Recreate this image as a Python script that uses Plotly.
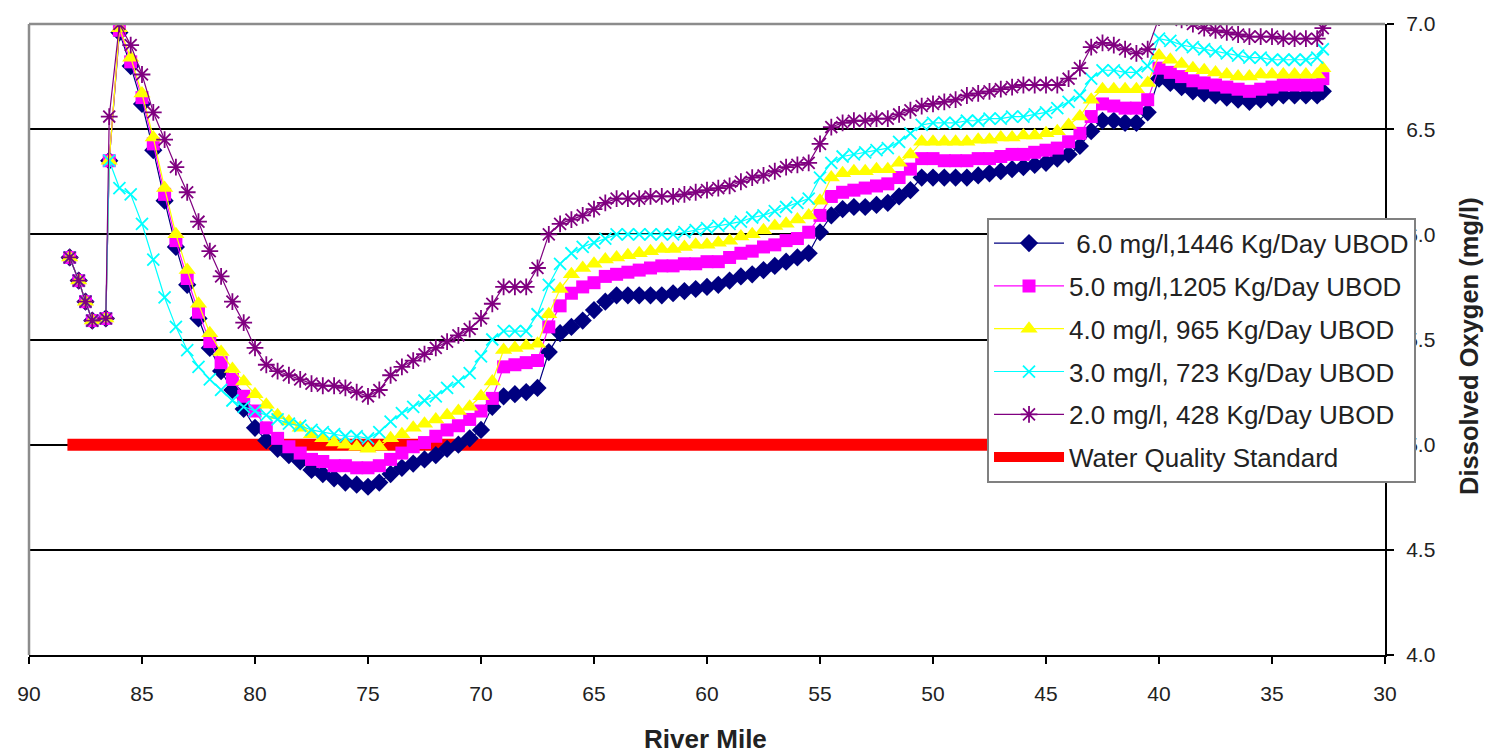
import plotly.graph_objects as go

river_mile = [88.2, 87.8, 87.5, 87.2, 86.6, 86.45,
              86.0, 85.5, 85.0, 84.5, 84.0, 83.5, 83.0, 82.5, 82.0, 81.5,
              81.0, 80.5, 80.0, 79.5, 79.0, 78.5, 78.0, 77.5, 77.0, 76.5,
              76.0, 75.5, 75.0, 74.5, 74.0, 73.5, 73.0, 72.5, 72.0, 71.5,
              71.0, 70.5, 70.0, 69.5, 69.0, 68.5, 68.0, 67.5, 67.0, 66.5,
              66.0, 65.5, 65.0, 64.5, 64.0, 63.5, 63.0, 62.5, 62.0, 61.5,
              61.0, 60.5, 60.0, 59.5, 59.0, 58.5, 58.0, 57.5, 57.0, 56.5,
              56.0, 55.5, 55.0, 54.5, 54.0, 53.5, 53.0, 52.5, 52.0, 51.5,
              51.0, 50.5, 50.0, 49.5, 49.0, 48.5, 48.0, 47.5, 47.0, 46.5,
              46.0, 45.5, 45.0, 44.5, 44.0, 43.5, 43.0, 42.5, 42.0, 41.5,
              41.0, 40.5, 40.0, 39.5, 39.0, 38.5, 38.0, 37.5, 37.0, 36.5,
              36.0, 35.5, 35.0, 34.5, 34.0, 33.5, 33.0, 32.75]

do_6mg = [5.89, 5.78, 5.68, 5.59, 5.60, 6.35,
          6.96, 6.80, 6.62, 6.40, 6.16, 5.94, 5.76, 5.60, 5.46, 5.35,
          5.26, 5.17, 5.08, 5.02, 4.98, 4.95, 4.92, 4.88, 4.86, 4.84,
          4.82, 4.81, 4.80, 4.82, 4.86, 4.89, 4.91, 4.93, 4.95, 4.98,
          5.00, 5.03, 5.07, 5.18, 5.23, 5.24, 5.25, 5.27, 5.44, 5.53,
          5.56, 5.59, 5.64, 5.68, 5.71, 5.71, 5.71, 5.71, 5.71, 5.72,
          5.73, 5.74, 5.75, 5.76, 5.78, 5.80, 5.81, 5.83, 5.85, 5.87,
          5.89, 5.91, 6.01, 6.09, 6.12, 6.13, 6.13, 6.14, 6.15, 6.18,
          6.21, 6.27, 6.27, 6.27, 6.27, 6.27, 6.28, 6.29, 6.30, 6.31,
          6.32, 6.33, 6.34, 6.36, 6.38, 6.42, 6.49, 6.54, 6.54, 6.53,
          6.53, 6.58, 6.74, 6.72, 6.70, 6.68, 6.67, 6.66, 6.65, 6.64,
          6.63, 6.64, 6.65, 6.66, 6.66, 6.66, 6.66, 6.68]

do_5mg = [5.89, 5.78, 5.68, 5.59, 5.60, 6.35,
          6.97, 6.82, 6.65, 6.43, 6.19, 5.97, 5.79, 5.63, 5.49, 5.39,
          5.31, 5.23, 5.16, 5.08, 5.03, 4.99, 4.96, 4.93, 4.92, 4.90,
          4.90, 4.89, 4.89, 4.90, 4.93, 4.96, 4.99, 5.01, 5.04, 5.07,
          5.09, 5.12, 5.16, 5.22, 5.37, 5.38, 5.39, 5.40, 5.56, 5.66,
          5.72, 5.75, 5.77, 5.80, 5.81, 5.82, 5.83, 5.84, 5.85, 5.85,
          5.86, 5.86, 5.87, 5.87, 5.89, 5.91, 5.92, 5.94, 5.95, 5.97,
          5.98, 6.01, 6.09, 6.18, 6.20, 6.21, 6.22, 6.23, 6.24, 6.27,
          6.31, 6.36, 6.36, 6.35, 6.35, 6.35, 6.36, 6.36, 6.37, 6.38,
          6.38, 6.39, 6.40, 6.41, 6.44, 6.48, 6.56, 6.62, 6.61, 6.60,
          6.60, 6.64, 6.79, 6.77, 6.75, 6.73, 6.72, 6.71, 6.70, 6.69,
          6.68, 6.69, 6.70, 6.71, 6.71, 6.71, 6.71, 6.74]

do_4mg = [5.89, 5.78, 5.68, 5.59, 5.60, 6.35,
          6.98, 6.84, 6.67, 6.46, 6.22, 6.00, 5.83, 5.67, 5.53, 5.44,
          5.36, 5.30, 5.24, 5.19, 5.14, 5.11, 5.08, 5.05, 5.03, 5.01,
          5.00, 4.99, 4.98, 4.99, 5.03, 5.05, 5.08, 5.10, 5.12, 5.14,
          5.16, 5.18, 5.23, 5.30, 5.45, 5.46, 5.47, 5.48, 5.62, 5.74,
          5.81, 5.84, 5.86, 5.88, 5.89, 5.90, 5.91, 5.92, 5.93, 5.93,
          5.94, 5.95, 5.95, 5.96, 5.97, 5.99, 6.00, 6.02, 6.04, 6.05,
          6.07, 6.09, 6.16, 6.27, 6.29, 6.30, 6.30, 6.31, 6.31, 6.34,
          6.38, 6.44, 6.44, 6.44, 6.44, 6.44, 6.45, 6.45, 6.46, 6.46,
          6.47, 6.47, 6.48, 6.49, 6.52, 6.56, 6.64, 6.69, 6.69, 6.69,
          6.69, 6.72, 6.85, 6.83, 6.81, 6.79, 6.78, 6.77, 6.76, 6.75,
          6.75, 6.76, 6.76, 6.76, 6.76, 6.76, 6.76, 6.79]

do_3mg = [5.89, 5.78, 5.68, 5.59, 5.60, 6.35,
          6.22, 6.19, 6.05, 5.88, 5.70, 5.56, 5.45, 5.37, 5.31, 5.26,
          5.21, 5.18, 5.16, 5.14, 5.12, 5.10, 5.09, 5.07, 5.06, 5.05,
          5.04, 5.04, 5.03, 5.06, 5.11, 5.15, 5.18, 5.21, 5.23, 5.27,
          5.30, 5.34, 5.42, 5.50, 5.54, 5.54, 5.54, 5.62, 5.76, 5.86,
          5.91, 5.94, 5.96, 5.98, 6.00, 6.00, 6.00, 6.00, 6.00, 6.00,
          6.01, 6.02, 6.03, 6.04, 6.05, 6.06, 6.08, 6.09, 6.11, 6.13,
          6.15, 6.17, 6.27, 6.34, 6.37, 6.38, 6.39, 6.40, 6.41, 6.44,
          6.48, 6.52, 6.53, 6.53, 6.53, 6.54, 6.54, 6.55, 6.55, 6.56,
          6.56, 6.57, 6.58, 6.60, 6.63, 6.66, 6.74, 6.78, 6.78, 6.77,
          6.77, 6.80, 6.93, 6.92, 6.90, 6.89, 6.88, 6.87, 6.86, 6.85,
          6.84, 6.84, 6.83, 6.83, 6.83, 6.83, 6.84, 6.88]

do_2mg = [5.89, 5.78, 5.68, 5.59, 5.60, 6.56,
          7.00, 6.90, 6.76, 6.58, 6.45, 6.32, 6.20, 6.06, 5.92, 5.80,
          5.68, 5.58, 5.46, 5.38, 5.35, 5.33, 5.31, 5.29, 5.28, 5.28,
          5.27, 5.25, 5.23, 5.26, 5.33, 5.37, 5.40, 5.43, 5.46, 5.49,
          5.52, 5.55, 5.60, 5.67, 5.75, 5.75, 5.75, 5.84, 6.00, 6.05,
          6.07, 6.09, 6.12, 6.15, 6.17, 6.17, 6.17, 6.18, 6.18, 6.18,
          6.19, 6.20, 6.21, 6.22, 6.23, 6.25, 6.27, 6.28, 6.30, 6.32,
          6.33, 6.34, 6.43, 6.51, 6.53, 6.54, 6.54, 6.55, 6.55, 6.57,
          6.59, 6.61, 6.62, 6.63, 6.64, 6.66, 6.67, 6.68, 6.69, 6.70,
          6.71, 6.71, 6.71, 6.71, 6.74, 6.79, 6.89, 6.91, 6.90, 6.88,
          6.86, 6.88, 7.03, 7.04, 7.02, 7.00, 6.98, 6.97, 6.96, 6.95,
          6.94, 6.94, 6.94, 6.93, 6.93, 6.93, 6.93, 6.98]

standard_miles = [88.3, 32.7]
standard_do = [5.0, 5.0]

series_names = [" 6.0 mg/l,1446 Kg/Day UBOD",
                "5.0 mg/l,1205 Kg/Day UBOD",
                "4.0 mg/l, 965 Kg/Day UBOD",
                "3.0 mg/l, 723 Kg/Day UBOD",
                "2.0 mg/l, 428 Kg/Day UBOD"]
standard_name = "Water Quality Standard"

x_ticks = [90, 85, 80, 75, 70, 65, 60, 55, 50, 45, 40, 35, 30]
y_ticks = [4.0, 4.5, 5.0, 5.5, 6.0, 6.5, 7.0]

FONT = "Liberation Sans, Arial, sans-serif"
TXT = "#222222"

fig = go.Figure()

fig.add_trace(go.Scatter(
    x=standard_miles, y=standard_do, mode="lines", name=standard_name,
    line=dict(color="#FF0000", width=12), legendrank=1006,
    legendgroup="g6"))

styles = [
    dict(color="#000080", symbol="diamond", size=14, lw=0),
    dict(color="#FF00FF", symbol="square", size=13, lw=0),
    dict(color="#FFFF00", symbol="triangle-up", size=15, lw=0),
    dict(color="#00FFFF", symbol="x-thin-open", size=12, lw=1.8),
    dict(color="#800080", symbol="asterisk-open", size=14, lw=1.8),
]
series_vals = [do_6mg, do_5mg, do_4mg, do_3mg, do_2mg]

for i, (name, vals, st) in enumerate(zip(series_names, series_vals, styles)):
    fig.add_trace(go.Scatter(
        x=river_mile, y=vals, mode="lines+markers", name=name,
        line=dict(color=st["color"], width=1.2),
        marker=dict(symbol=st["symbol"], size=st["size"], color=st["color"],
                    line=dict(color=st["color"], width=st["lw"])),
        legendrank=1000 + i, legendgroup="g%d" % i))

fig.update_layout(
    width=1489, height=754,
    margin=dict(l=29, r=104, t=18, b=99),
    paper_bgcolor="white", plot_bgcolor="white",
    font=dict(family=FONT, color=TXT),
    showlegend=True,
    legend=dict(x=0.7065, y=0.693, xanchor="left", yanchor="top",
                bgcolor="white", bordercolor="#808080", borderwidth=2,
                font=dict(size=26, family=FONT, color=TXT),
                itemwidth=70, tracegroupgap=6, traceorder="grouped"),
    xaxis=dict(range=[90, 30], tickvals=x_ticks, showgrid=False,
               zeroline=False, showline=True, linecolor="black", linewidth=2,
               ticks="outside", ticklen=7, tickwidth=2, tickcolor="black",
               tickfont=dict(size=21, family=FONT, color=TXT),
               ticklabelstandoff=12),
    yaxis=dict(range=[4.0, 7.0], tickvals=y_ticks, side="right",
               tickformat=".1f", showgrid=True, gridcolor="black",
               gridwidth=2, zeroline=False, showline=True,
               linecolor="black", linewidth=2, ticks="outside", ticklen=7,
               tickwidth=2, tickcolor="black",
               tickfont=dict(size=21, family=FONT, color=TXT),
               ticklabelstandoff=8),
    shapes=[
        dict(type="line", xref="paper", yref="paper", x0=0, x1=1, y0=1, y1=1,
             line=dict(color="#8c8c8c", width=2.5), layer="above"),
        dict(type="line", xref="paper", yref="paper", x0=0, x1=0, y0=0, y1=1,
             line=dict(color="#8c8c8c", width=2.5), layer="above"),
    ],
    annotations=[
        dict(text="<b>River Mile</b>", xref="paper", yref="paper",
             x=0.499, y=-0.133, xanchor="center", yanchor="middle",
             showarrow=False, font=dict(size=26, family=FONT, color=TXT)),
        dict(text="<b>Dissolved Oxygen (mg/l)</b>", xref="paper",
             yref="paper", x=1.062, y=0.49, xanchor="center",
             yanchor="middle", textangle=-90, showarrow=False,
             font=dict(size=25.5, family=FONT, color=TXT)),
    ],
)

fig.write_html("out.html")
